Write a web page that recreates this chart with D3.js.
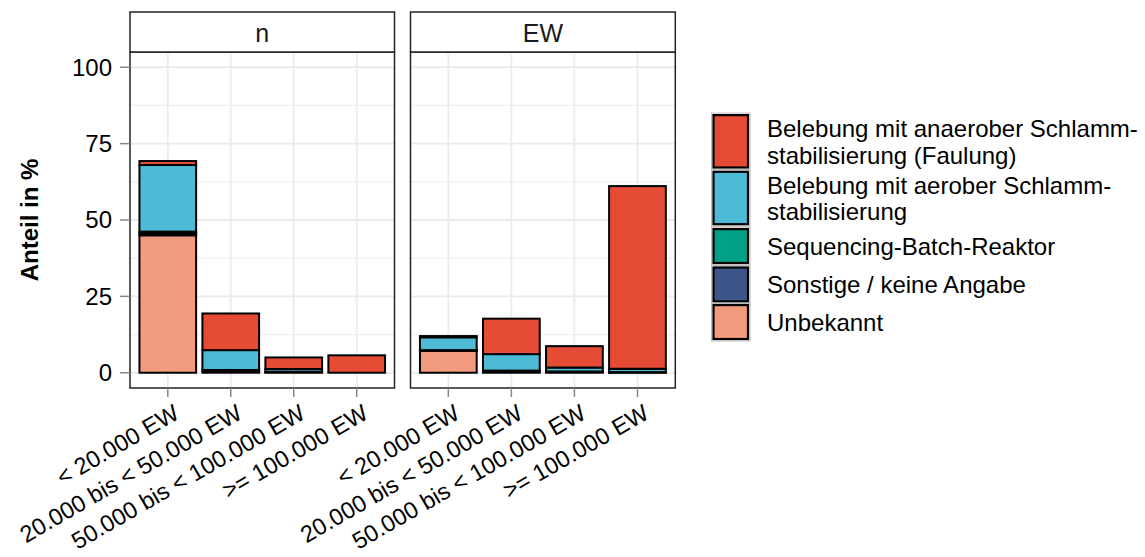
<!DOCTYPE html>
<html>
<head>
<meta charset="utf-8">
<script src="https://cdn.jsdelivr.net/npm/d3@7"></script>
<style>
  html, body { margin: 0; padding: 0; background: #fff; }
  svg { display: block; font-family: "Liberation Sans", Arial, sans-serif; }
</style>
</head>
<body>
<svg id="chart" width="1145" height="557"></svg>
<script>
// ---- data ----
const categories = ["< 20.000 EW", "20.000 bis < 50.000 EW", "50.000 bis < 100.000 EW", ">= 100.000 EW"];
const facets = ["n", "EW"];
const types = [
  "Belebung mit anaerober Schlamm-\nstabilisierung (Faulung)",
  "Belebung mit aerober Schlamm-\nstabilisierung",
  "Sequencing-Batch-Reaktor",
  "Sonstige / keine Angabe",
  "Unbekannt"
];
const typeColors = ["#E64B35", "#4DBBD5", "#00A087", "#3C5488", "#F39B7F"];
// values in %, per facet, per type (legend order), per category
const n_anaerob   = [1.3, 12.0, 3.8, 5.7];
const n_aerob     = [21.8, 6.5, 0.9, 0.0];
const n_sbr       = [0.7, 0.3, 0.1, 0.0];
const n_sonstige  = [0.5, 0.6, 0.2, 0.0];
const n_unbekannt = [45.0, 0.0, 0.0, 0.0];
const ew_anaerob   = [0.4, 11.6, 7.0, 59.8];
const ew_aerob     = [4.2, 5.4, 1.3, 1.1];
const ew_sbr       = [0.1, 0.2, 0.1, 0.1];
const ew_sonstige  = [0.1, 0.5, 0.3, 0.1];
const ew_unbekannt = [7.2, 0.0, 0.0, 0.0];
const yTicks = [0, 25, 50, 75, 100];
const yMinor = [12.5, 37.5, 62.5, 87.5];

const facetData = {
  "n":  [n_anaerob, n_aerob, n_sbr, n_sonstige, n_unbekannt],
  "EW": [ew_anaerob, ew_aerob, ew_sbr, ew_sonstige, ew_unbekannt]
};

// ---- layout ----
const svg = d3.select("#chart");
const panelTop = 52, panelBottom = 388, stripTop = 12;
const panels = [{x0: 130, x1: 394.5}, {x0: 410.5, x1: 675.3}];
const FS = 24;
const XFS = 23.5;

const y = d3.scaleLinear().domain([-5, 105]).range([panelBottom, panelTop]);

const stackGen = d3.stack().keys(d3.range(types.length).reverse());

panels.forEach((p, fi) => {
  const facet = facets[fi];
  const x = d3.scaleBand().domain(categories).range([p.x0, p.x1])
    .paddingInner(0.1).paddingOuter(0.15);
  const g = svg.append("g");

  // background grid
  g.selectAll("line.minor").data(yMinor).join("line")
    .attr("x1", p.x0).attr("x2", p.x1)
    .attr("y1", d => y(d)).attr("y2", d => y(d))
    .attr("stroke", "#F0F0F0").attr("stroke-width", 1.2);
  g.selectAll("line.majory").data(yTicks).join("line")
    .attr("x1", p.x0).attr("x2", p.x1)
    .attr("y1", d => y(d)).attr("y2", d => y(d))
    .attr("stroke", "#EBEBEB").attr("stroke-width", 1.8);
  g.selectAll("line.majorx").data(categories).join("line")
    .attr("x1", d => x(d) + x.bandwidth() / 2).attr("x2", d => x(d) + x.bandwidth() / 2)
    .attr("y1", panelTop).attr("y2", panelBottom)
    .attr("stroke", "#EBEBEB").attr("stroke-width", 1.8);

  // stacked bars
  const rows = categories.map((c, ci) => {
    const r = {cat: c};
    facetData[facet].forEach((arr, ti) => r[ti] = arr[ci]);
    return r;
  });
  const series = stackGen(rows);
  series.forEach(s => {
    const ti = s.key;
    g.append("g").selectAll("rect").data(s.filter(d => d[1] - d[0] > 0)).join("rect")
      .attr("x", d => x(d.data.cat))
      .attr("width", x.bandwidth())
      .attr("y", d => y(d[1]))
      .attr("height", d => y(d[0]) - y(d[1]))
      .attr("fill", typeColors[ti])
      .attr("stroke", "#000").attr("stroke-width", 2);
  });

  // panel border
  g.append("rect").attr("x", p.x0).attr("y", panelTop)
    .attr("width", p.x1 - p.x0).attr("height", panelBottom - panelTop)
    .attr("fill", "none").attr("stroke", "#222").attr("stroke-width", 1.5);
  // strip
  g.append("rect").attr("x", p.x0).attr("y", stripTop)
    .attr("width", p.x1 - p.x0).attr("height", panelTop - stripTop)
    .attr("fill", "#fff").attr("stroke", "#222").attr("stroke-width", 1.5);
  g.append("text").attr("x", (p.x0 + p.x1) / 2).attr("y", (stripTop + panelTop) / 2 + 1)
    .attr("dy", "0.35em").attr("text-anchor", "middle")
    .attr("font-size", 25).attr("fill", "#1a1a1a").text(facet);

  // x axis ticks & labels
  const xa = g.append("g");
  categories.forEach(c => {
    const cx = x(c) + x.bandwidth() / 2;
    xa.append("line").attr("x1", cx).attr("x2", cx)
      .attr("y1", panelBottom).attr("y2", panelBottom + 9)
      .attr("stroke", "#888").attr("stroke-width", 1.5);
    xa.append("text")
      .attr("transform", `translate(${cx + 4.5},${panelBottom + 15}) rotate(-30)`)
      .attr("text-anchor", "end").attr("dy", "0.72em")
      .attr("font-size", XFS).attr("fill", "#000").text(c);
  });

  // y axis only on first panel
  if (fi === 0) {
    const ya = g.append("g");
    yTicks.forEach(t => {
      ya.append("line").attr("x1", p.x0 - 10).attr("x2", p.x0)
        .attr("y1", y(t)).attr("y2", y(t))
        .attr("stroke", "#888").attr("stroke-width", 1.5);
      ya.append("text").attr("x", p.x0 - 18).attr("y", y(t)).attr("dy", "0.35em")
        .attr("text-anchor", "end").attr("font-size", FS).attr("fill", "#000").text(t);
    });
  }
});

// y axis title
svg.append("text")
  .attr("transform", `translate(38,${(panelTop + panelBottom) / 2}) rotate(-90)`)
  .attr("text-anchor", "middle").attr("font-size", FS).attr("font-weight", "bold")
  .text("Anteil in %");

// legend
const legendTops = [114.3, 171, 228.3, 266.7, 304.3];
const legend = svg.append("g");
types.forEach((t, i) => {
  const lines = t.split("\n");
  const h = lines.length > 1 ? 54 : 35.5;
  const top = legendTops[i];
  legend.append("rect").attr("x", 711.5).attr("y", top - 1.2).attr("width", 38.5).attr("height", h + 2.4)
    .attr("fill", "none").attr("stroke", "#bbb").attr("stroke-width", 1);
  legend.append("rect").attr("x", 713.5).attr("y", top + 0.8).attr("width", 34.5).attr("height", h - 1.6)
    .attr("fill", typeColors[i]).attr("stroke", "#000").attr("stroke-width", 2.2);
  const cy = top + h / 2;
  const lh = 26.7;
  lines.forEach((ln, k) => {
    legend.append("text").attr("x", 767)
      .attr("y", cy - (lines.length - 1) * lh / 2 + k * lh + 9)
      .attr("font-size", FS).attr("fill", "#000").text(ln);
  });
});
</script>
</body>
</html>
